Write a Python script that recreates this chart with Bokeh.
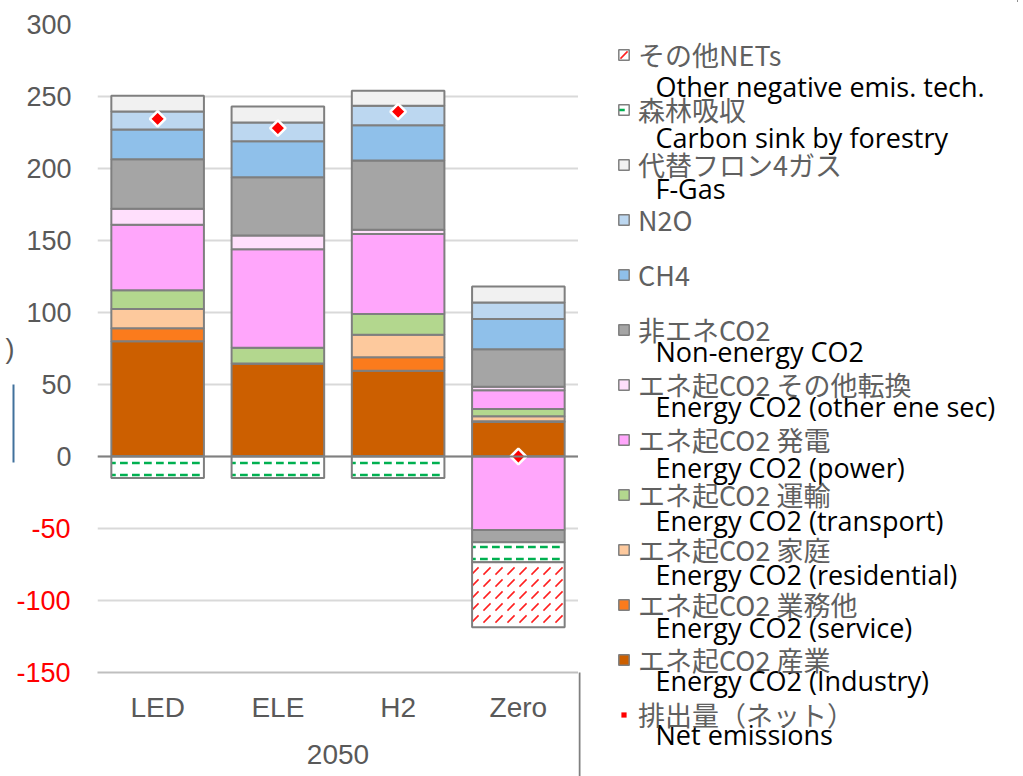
import numpy as np
from bokeh.plotting import figure
from bokeh.layouts import row
from bokeh.models import (FactorRange, Range1d, FixedTicker, Span, Legend, LegendItem,
                          LinearAxis, ColumnDataSource)
from bokeh.core.properties import value
from bokeh.embed import file_html
from bokeh.resources import INLINE

# ---------------- data ----------------
year = "2050"
scenarios = ["LED", "ELE", "H2", "Zero"]

industry = [80, 64.5, 59.5, 24]
service = [9, 0, 9.5, 0.5]
residential = [13.5, 0, 15.5, 3.5]
transport = [13, 11, 14.5, 5]
power = [45.5, 68.5, 55.5, 13]
other_conv = [11, 9.5, 3, 2.5]
non_energy = [34.5, 40.5, 48, 26]
ch4 = [20.5, 25, 24.5, 21]
n2o = [12.5, 13, 13.5, 11.5]
fgas = [11, 11, 10.5, 11]

power_neg = [0, 0, 0, -51]
non_energy_neg = [0, 0, 0, -8.5]
forestry = [-15, -15, -15, -14]
other_nets = [0, 0, 0, -45]

net = [234.5, 228, 239.5, 0]

pos_ticks = [0, 50, 100, 150, 200, 250, 300]
neg_ticks = [-150, -100, -50]

legend_jp = ["その他NETs", "森林吸収", "代替フロン4ガス", "N2O", "CH4", "非エネCO2",
             "エネ起CO2 その他転換", "エネ起CO2 発電", "エネ起CO2 運輸", "エネ起CO2 家庭",
             "エネ起CO2 業務他", "エネ起CO2 産業", "排出量（ネット）"]
legend_en = ["Other negative emis. tech.", "Carbon sink by forestry", "F-Gas",
             "Non-energy CO2", "Energy CO2 (other ene sec)", "Energy CO2 (power)",
             "Energy CO2 (transport)", "Energy CO2 (residential)", "Energy CO2 (service)",
             "Energy CO2 (Industry)", "Net emissions"]

# ---------------- styles ----------------
EDGE = "#7f7f7f"
BW = 0.77
styles = {
    "industry": dict(fill_color="#cc5f00"),
    "service": dict(fill_color="#fb7b1c"),
    "residential": dict(fill_color="#fdc99d"),
    "transport": dict(fill_color="#b3d78e"),
    "power": dict(fill_color="#ffa6fb"),
    "other_conv": dict(fill_color="#ffdffc"),
    "non_energy": dict(fill_color="#a5a5a5"),
    "ch4": dict(fill_color="#8fc0ea"),
    "n2o": dict(fill_color="#bcd7f0"),
    "fgas": dict(fill_color="#f1f1f1"),
    "forestry": dict(fill_color="white", hatch_pattern="horizontal_dash",
                     hatch_color="#00b050", hatch_scale=12, hatch_weight=2.5),
    "other_nets": dict(fill_color="white", hatch_pattern="right_diagonal_dash",
                       hatch_color="#ff2020", hatch_scale=12, hatch_weight=1.6),
}
marker_style = dict(marker="square", angle=np.pi / 4, size=11, fill_color="#ff0000",
                    line_color="white", line_width=2.5)

# ---------------- main chart ----------------
x = [(year, s) for s in scenarios]
p = figure(x_range=FactorRange(*x), y_range=Range1d(-150, 300),
           width=578, height=776,
           min_border_left=97, min_border_right=0, min_border_top=24, min_border_bottom=104,
           output_backend="svg", toolbar_location=None, tools="", frame_align=False)
p.outline_line_color = None
p.background_fill_color = "white"
p.border_fill_color = "white"

pos_series = [("industry", industry), ("service", service), ("residential", residential),
              ("transport", transport), ("power", power), ("other_conv", other_conv),
              ("non_energy", non_energy), ("ch4", ch4), ("n2o", n2o), ("fgas", fgas)]
bottom = np.zeros(len(x))
for key, vals in pos_series:
    top = bottom + np.array(vals, dtype=float)
    src = ColumnDataSource(dict(x=x, bottom=bottom, top=top))
    p.vbar(x="x", bottom="bottom", top="top", width=BW, source=src,
           line_color=EDGE, line_width=2, **styles[key])
    bottom = top

neg_series = [("power", power_neg), ("non_energy", non_energy_neg),
              ("forestry", forestry), ("other_nets", other_nets)]
topv = np.zeros(len(x))
for key, vals in neg_series:
    bot = topv + np.array(vals, dtype=float)
    src = ColumnDataSource(dict(x=x, bottom=bot, top=topv))
    p.vbar(x="x", bottom="bottom", top="top", width=BW, source=src,
           line_color=EDGE, line_width=2, **styles[key])
    topv = bot

p.add_layout(Span(location=0, dimension="width", line_color="#808080", line_width=2))
p.scatter(x="x", y="y", source=ColumnDataSource(dict(x=x, y=net)), **marker_style)

no_ticks = dict(axis_line_color=None, major_tick_line_color=None, minor_tick_line_color=None,
                major_tick_out=0, major_tick_in=0, minor_tick_out=0, minor_tick_in=0)

# inner y axis: gray positive labels
ya = p.yaxis[0]
ya.ticker = FixedTicker(ticks=pos_ticks)
for k, v in no_ticks.items():
    setattr(ya, k, v)
ya.major_label_standoff = 26
ya.major_label_text_font = "Liberation Sans"
ya.major_label_text_font_size = "27px"
ya.major_label_text_color = "#595959"

# second y axis: red negative labels, pulled back into the same label column
ya2 = LinearAxis(ticker=FixedTicker(ticks=neg_ticks), major_label_standoff=-47,
                 major_label_overrides={t: "-%d" % abs(t) for t in neg_ticks},
                 major_label_text_font="Liberation Sans", major_label_text_font_size="27px",
                 major_label_text_color="#ff0000", **no_ticks)
p.add_layout(ya2, "left")

# outermost: cut-off axis title remnant ")" and edge of a slide call-out
ya3 = LinearAxis(ticker=FixedTicker(ticks=[]), bounds=(-4, 50),
                 axis_line_color="#41719c", axis_line_width=2,
                 major_tick_line_color=None, minor_tick_line_color=None,
                 major_tick_out=0, major_tick_in=0, minor_tick_out=0, minor_tick_in=0,
                 major_label_standoff=0,
                 axis_label=")", axis_label_orientation="horizontal", axis_label_standoff=-1,
                 axis_label_text_font="Liberation Sans", axis_label_text_font_size="27px",
                 axis_label_text_font_style="normal", axis_label_text_color="#595959")
p.add_layout(ya3, "left")

p.ygrid.ticker = FixedTicker(ticks=neg_ticks + pos_ticks)
p.ygrid.grid_line_color = "#d9d9d9"
p.ygrid.grid_line_width = 2
p.xgrid.grid_line_color = None

xa = p.xaxis[0]
xa.axis_line_color = "#bfbfbf"
xa.axis_line_width = 2
xa.major_tick_line_color = None
xa.minor_tick_line_color = None
xa.major_tick_out = 0
xa.major_tick_in = 0
xa.major_label_standoff = 19
xa.major_label_text_font = "Liberation Sans"
xa.major_label_text_font_size = "28px"
xa.major_label_text_color = "#595959"
xa.group_text_font = "Liberation Sans"
xa.group_text_font_size = "28px"
xa.group_text_font_style = "normal"
xa.group_text_color = "#595959"
xa.separator_line_color = None

# ---------------- legend panel (canvas-pixel coordinates) ----------------
q = figure(width=440, height=776, x_range=Range1d(578, 1018), y_range=Range1d(776, 0),
           min_border=0, x_axis_type=None, y_axis_type=None, frame_align=False,
           output_backend="svg", toolbar_location=None, tools="")
q.outline_line_color = None
q.background_fill_color = "white"
q.border_fill_color = "white"
q.xgrid.visible = False
q.ygrid.visible = False

# legend proxies (kept outside the visible range; only their styles feed the legend icons)
order = ["other_nets", "forestry", "fgas", "n2o", "ch4", "non_energy", "other_conv",
         "power", "transport", "residential", "service", "industry"]
items = []
for lab, key in zip(legend_jp, order):
    r = q.vbar(x=[5000], bottom=[0], top=[1], width=1, line_color=EDGE, line_width=1.5,
               **styles[key])
    items.append(LegendItem(label=lab, renderers=[r]))
rm = q.scatter(x=[5000], y=[0], marker="square", angle=np.pi / 4, size=11,
               fill_color="#ff0000", line_color=None)
items.append(LegendItem(label=legend_jp[-1], renderers=[rm]))

legend = Legend(items=items, location=(39, 42), padding=0, margin=0, spacing=15,
                label_height=40, glyph_height=13, glyph_width=13, label_standoff=8,
                label_text_font="Noto Sans CJK JP", label_text_font_size="27px",
                label_text_color="#606060", border_line_alpha=0, background_fill_alpha=0)
q.add_layout(legend)

en_x = [655] * len(legend_en)
en_y = [86, 137, 188, 351, 406, 467, 520, 574, 627, 680, 734]
q.text(x=en_x, y=en_y, text=legend_en, text_font=value("Open Sans"),
       text_font_size="27px", text_color="black", text_baseline="middle", text_align="left")

# right edge of the category-label box
q.segment(x0=[579], y0=[672], x1=[579], y1=[776], line_color="#808080", line_width=2)

layout = row(p, q, spacing=0)
open("out.html", "w").write(file_html(layout, INLINE))
